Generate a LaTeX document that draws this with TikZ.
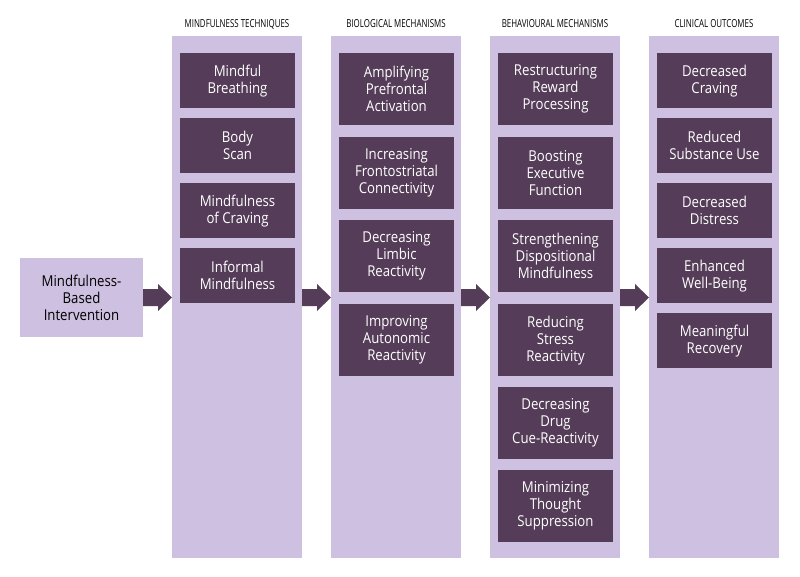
\documentclass[tikz,border=0pt]{standalone}
\usepackage{fontspec}
\setmainfont[FakeStretch=0.88]{Open Sans}
\newfontfamily\hdr[FakeStretch=0.72]{Open Sans}
\definecolor{lav}{HTML}{CEC0E0}
\definecolor{plum}{HTML}{553D59}
\begin{document}
\begin{tikzpicture}[x=1pt,y=-1pt,
  col/.style={fill=lav,draw=none},
  box/.style={fill=plum,draw=none,text=white,font=\fontsize{15}{17}\selectfont,align=center,anchor=north,minimum width=115,inner sep=0},
  hd/.style={font=\hdr\fontsize{11}{13}\selectfont,text=black},
  arr/.style={fill=plum,draw=none}]
\useasboundingbox (0,0) rectangle (800,577);
\foreach \x/\t [count=\i] in {172/MINDFULNESS TECHNIQUES,331/BIOLOGICAL MECHANISMS,490/BEHAVIOURAL MECHANISMS,649/CLINICAL OUTCOMES}{
  \fill[col] (\x,36) rectangle (\x+130,558);
  \node[hd] (h\i) at (\x+65,24) {\t};
}
\node[fill=lav,minimum width=123,minimum height=79,inner sep=0,align=center,font=\fontsize{15}{17}\selectfont,text=black] (mbi) at (81.5,297.5) {Mindfulness-\\Based\\Intervention};
% column 1
\foreach \y/\t [count=\i] in {53/{Mindful\\Breathing},118/{Body\\Scan},183/{Mindfulness\\of Craving},248/{Informal\\Mindfulness}}{
  \node[box,minimum height=55] (a\i) at (237.5,\y) {\t};}
\foreach \y/\t [count=\i] in {53/{Amplifying\\Prefrontal\\Activation},137/{Increasing\\Frontostriatal\\Connectivity},220/{Decreasing\\Limbic\\Reactivity},304/{Improving\\Autonomic\\Reactivity}}{
  \node[box,minimum height=72] (b\i) at (396.5,\y) {\t};}
\foreach \y/\t [count=\i] in {53/{Restructuring\\Reward\\Processing},137/{Boosting\\Executive\\Function},220/{Strengthening\\Dispositional\\Mindfulness},304/{Reducing\\Stress\\Reactivity},387/{Decreasing\\Drug\\Cue-Reactivity},470/{Minimizing\\Thought\\Suppression}}{
  \node[box,minimum height=72] (c\i) at (555.5,\y) {\t};}
\foreach \y/\t [count=\i] in {53/{Decreased\\Craving},118/{Reduced\\Substance Use},183/{Decreased\\Distress},248/{Enhanced\\Well-Being},313/{Meaningful\\Recovery}}{
  \node[box,minimum height=55] (d\i) at (714.5,\y) {\t};}
\foreach \x in {143,302,461,620}{
  \fill[arr] (\x,289) -- (\x+15,289) -- (\x+15,284) -- (\x+29,297.5) -- (\x+15,311) -- (\x+15,306) -- (\x,306) -- cycle;}
\end{tikzpicture}
\end{document}
